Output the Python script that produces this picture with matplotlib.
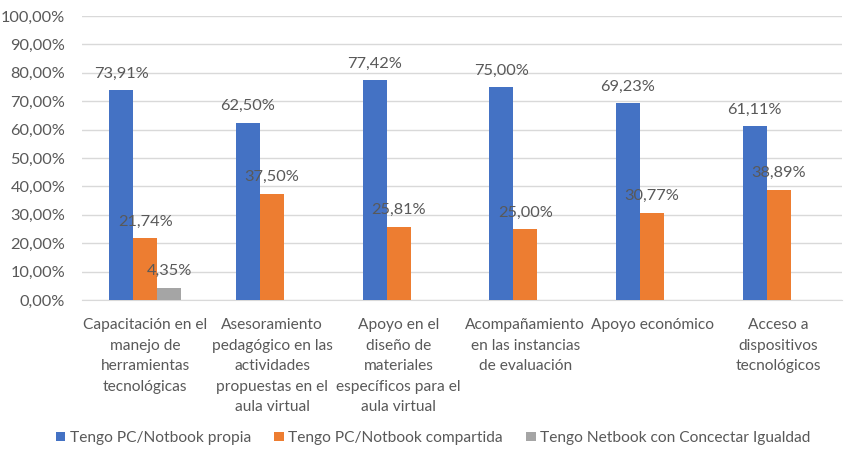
import matplotlib
matplotlib.use('Agg')
import matplotlib.pyplot as plt
import numpy as np

categories = [
    'Capacitación en el\nmanejo de\nherramientas\ntecnológicas',
    'Asesoramiento\npedagógico en las\nactividades\npropuestas en el\naula virtual',
    'Apoyo en el\ndiseño de\nmateriales\nespecíficos para el\naula virtual',
    'Acompañamiento\nen las instancias\nde evaluación',
    'Apoyo económico',
    'Acceso a\ndispositivos\ntecnológicos',
]
series_names = [
    'Tengo PC/Notbook propia',
    'Tengo PC/Notbook compartida',
    'Tengo Netbook con Concectar Igualdad',
]
propia = [73.91, 62.50, 77.42, 75.00, 69.23, 61.11]
compartida = [21.74, 37.50, 25.81, 25.00, 30.77, 38.89]
conectar = [4.35, None, None, None, None, None]

colors = ['#4472C4', '#ED7D31', '#A5A5A5']
text_color = '#595959'
plt.rcParams['font.family'] = ['Lato', 'DejaVu Sans']

fig = plt.figure(figsize=(8.46, 4.5), dpi=100)
ax = fig.add_axes([82 / 846, 1 - 300 / 450, 760 / 846, 284 / 450])

x = np.arange(len(categories))
width = 0.19
for i, (vals, col) in enumerate(zip([propia, compartida, conectar], colors)):
    offs = (i - 1) * width
    xs = [xi + offs for xi, v in zip(x, vals) if v is not None]
    vs = [v for v in vals if v is not None]
    ax.bar(xs, vs, width, color=col, label=series_names[i], zorder=3)
    for xi, v in zip(xs, vs):
        ax.text(xi, v + 5.8, f'{v:.2f}%'.replace('.', ','), ha='center',
                va='center', fontsize=11.8, color=text_color, zorder=4)

ax.set_xlim(-0.5, len(categories) - 0.5)
ax.set_ylim(0, 100)
ax.set_yticks(np.arange(0, 101, 10))
ax.set_yticklabels([f'{t:.2f}%'.replace('.', ',') for t in np.arange(0, 101, 10)])
ax.set_xticks(x)
ax.set_xticklabels(categories, linespacing=1.6, va='top', fontsize=11.2)
ax.tick_params(axis='both', length=0, colors=text_color)
ax.tick_params(axis='y', pad=12, labelsize=11.8)
ax.tick_params(axis='x', pad=13)
ax.grid(axis='y', color='#D9D9D9', lw=1, zorder=0)
for s in ['top', 'right', 'left']:
    ax.spines[s].set_visible(False)
ax.spines['bottom'].set_color('#D9D9D9')

fig.legend(loc='center', bbox_to_anchor=(0.512, 1 - 438 / 450), ncol=3,
           frameon=False, fontsize=11.2, handlelength=0.6, handleheight=0.6,
           handletextpad=0.3, columnspacing=1.5, labelcolor=text_color)

fig.savefig('out.png', dpi=100)
